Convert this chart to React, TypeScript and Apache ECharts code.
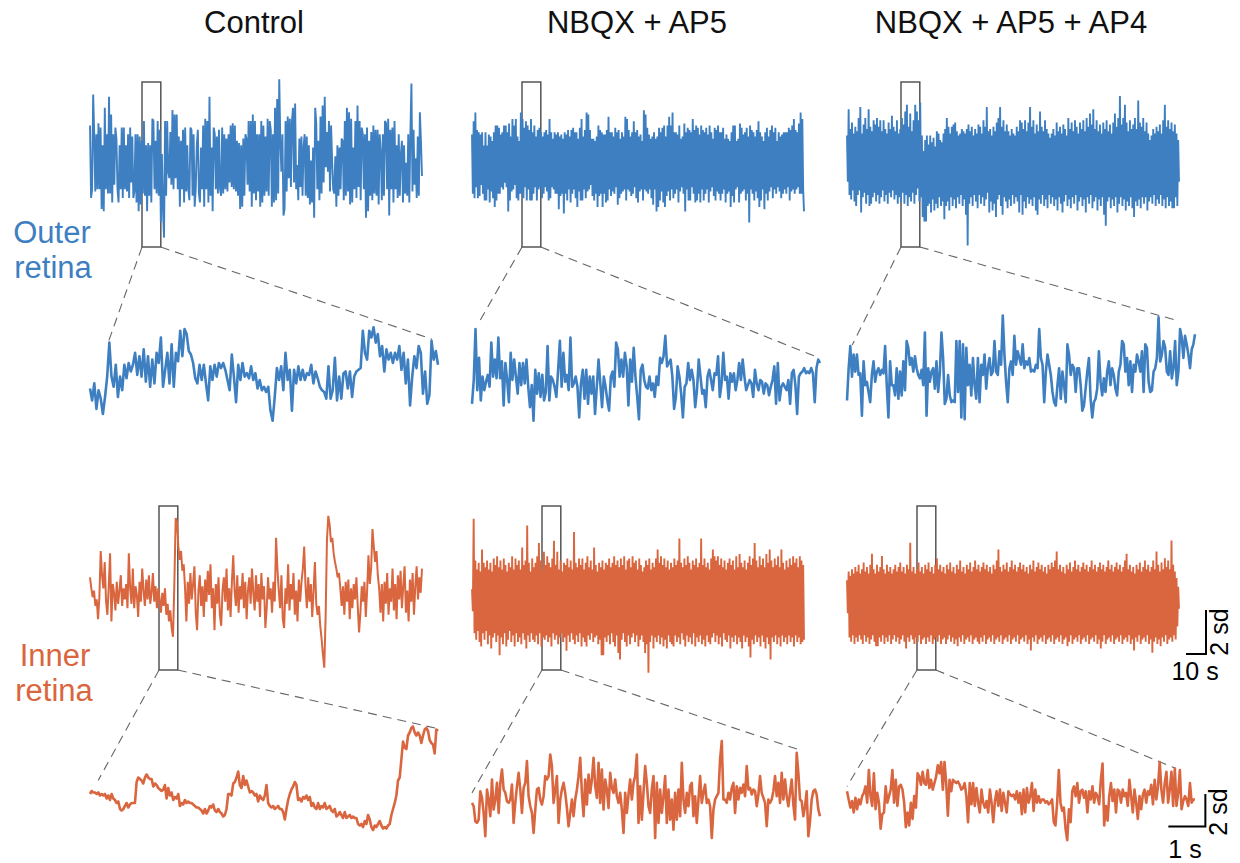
import { useEffect, useRef } from "react";
import * as echarts from "echarts";

// ---------- labels ----------
const CONDITIONS = ["Control", "NBQX + AP5", "NBQX + AP5 + AP4"];
const REGION_LABELS = [["Outer", "retina"], ["Inner", "retina"]];
const FULL_DURATION_S = 166; // full recordings (s)
const ZOOM_DURATION_S = 9.4; // zoomed windows (s)

// ---------- values (sd units) ----------
// Outer retina, Control, full recording (dense trace)
const outerControlFull = [
  1.8,-1.5,-1.1,3.2,1.4,-1.2,1.4,-1.1,1.9,-1.1,1.7,-2.0,0.9,-2.1,2.6,-1.1,1.4,-1.3,3.1,-1.3,2.3,-1.7,1.4,-0.9,1.7,1.2,-1.1,-1.7,0.9,-1.1,
  1.7,-1.5,1.7,-1.1,0.9,-1.2,1.4,-1.5,1.7,-0.8,1.3,-1.5,-1.2,1.4,-1.7,1.4,-2.1,1.3,-1.8,1.1,-1.3,2.0,-1.4,0.9,-2.1,1.0,-1.4,0.9,-1.7,2.1,
  2.0,-1.1,1.1,-1.3,2.0,-1.4,1.6,-2.6,0.5,-2.0,-3.3,2.0,-1.4,2.0,-0.3,-0.6,1.5,-0.9,2.5,-1.1,2.3,-0.6,2.3,-1.1,1.3,-1.9,1.1,-1.1,1.6,-1.7,
  1.7,-1.2,0.9,-1.1,-1.6,1.7,1.6,-1.4,1.4,-1.9,-1.1,0.9,1.6,-1.3,-1.7,0.8,-1.1,1.8,-1.9,2.1,-1.1,2.0,-1.7,3.1,-1.4,0.8,-2.1,1.7,1.4,-1.1,
  1.3,-1.3,1.6,-1.1,-1.4,1.7,-1.3,1.4,-1.1,1.2,-1.2,1.4,-0.8,1.8,-1.0,1.9,-1.1,1.8,-1.2,1.1,-1.4,1.0,-2.0,0.9,-1.9,1.2,-1.4,1.4,1.2,-0.9,
  2.0,-1.2,2.0,-1.9,2.3,-1.3,2.0,-1.6,1.4,-1.2,1.4,-1.9,2.0,-1.7,1.8,-1.4,1.3,-1.2,2.1,-1.4,2.0,1.6,-1.9,1.4,-1.7,2.6,-1.6,3.0,-1.3,3.9,
  1.1,-0.3,1.4,-2.3,-2.0,2.0,-1.2,2.2,-0.6,2.1,-1.0,2.0,2.6,-0.8,2.8,-1.1,0.0,-1.6,1.2,-1.0,1.3,-1.4,0.8,1.4,-1.4,1.3,-1.5,0.9,-1.8,0.2,
  -1.7,0.8,-2.4,2.6,1.9,-1.1,1.1,-1.6,2.2,-1.3,2.7,-0.8,3.1,-0.1,1.5,-0.3,2.0,-1.2,1.8,0.2,-1.1,-1.3,0.4,-1.9,0.9,-1.4,0.8,-1.1,1.2,1.1,
  -1.6,2.0,-1.4,2.6,-1.2,2.4,-1.8,2.1,-1.7,0.8,-1.1,2.0,-1.5,2.7,-1.0,2.0,-1.6,1.7,1.4,-1.1,1.4,-2.4,1.7,-2.1,1.1,-1.4,1.5,-1.6,1.8,-1.3,
  1.6,-1.4,1.6,-1.8,1.4,0.6,-1.6,1.4,-1.4,2.0,1.9,-1.1,2.1,-2.3,1.6,-1.1,1.7,-1.7,2.0,-1.1,0.9,-1.5,1.4,-1.4,0.5,1.1,-1.7,0.9,-1.3,0.1,
  -1.4,1.4,-1.7,1.4,3.7,-1.2,1.6,-0.9,0.3,-1.5,1.3,-1.4,2.4,1.1,-0.5,
];

// Outer retina, NBQX + AP5, full recording: successive upper peaks and lower troughs
const outerNbqxFullPeaks = [
  1.3,1.9,2.3,1.5,1.4,1.3,1.4,0.8,1.4,0.8, 1.3,1.2,1.0,1.4,1.7,1.7,1.6,1.3,1.4,1.7,
  1.7,1.4,1.8,1.2,2.0,1.7,2.0,1.2,1.0,2.3, 2.0,1.6,1.9,1.7,1.5,2.0,1.4,1.7,1.2,1.5,
  1.6,1.4,1.2,1.4,1.5,1.3,2.0,1.4,1.1,1.4, 1.3,1.4,1.2,1.3,1.1,1.4,1.3,1.5,1.2,1.5,
  1.6,1.4,1.4,1.1,1.6,2.0,1.2,1.5,2.3,2.2, 1.5,1.1,1.1,1.0,1.2,1.7,1.5,1.4,1.3,1.3,
  1.5,2.1,1.4,1.4,1.2,1.6,1.4,1.5,1.1,1.4, 1.2,2.1,2.0,1.5,1.2,1.4,1.9,1.4,1.5,1.2,
  1.3,1.0,2.4,2.2,1.6,1.3,1.1,1.2,1.4,1.1, 1.2,1.6,1.4,1.6,1.7,1.2,1.7,2.1,1.7,2.3,
  1.4,1.4,1.3,1.7,1.1,1.2,1.8,1.4,1.6,1.5, 1.4,2.0,1.5,1.7,1.6,1.3,1.7,1.5,1.4,1.6,
  1.3,1.7,1.4,1.1,1.6,1.5,1.7,1.4,1.4,1.6, 1.1,1.3,1.1,1.0,1.4,1.7,1.7,1.0,1.1,1.8,
  1.6,1.3,1.4,1.6,1.2,1.7,1.5,1.4,1.2,1.5, 1.9,1.4,1.2,1.0,1.4,1.6,1.2,1.5,1.7,1.4,
  1.6,1.0,1.4,1.2,1.3,1.4,1.4,1.4,1.6,1.5, 1.7,2.0,1.5,1.4,1.8,2.3,2.0,
];
const outerNbqxFullTroughs = [
  -1.4,-1.6,-1.1,-1.6,-1.5,-1.0,-1.4,-1.7,-1.7,-1.2, -1.8,-1.3,-1.6,-2.0,-1.7,-1.4,-1.4,-1.1,-1.2,-0.9,
  -1.1,-2.2,-1.7,-1.3,-1.2,-1.0,-1.6,-1.7,-1.4,-1.4, -1.6,-1.1,-1.7,-1.2,-1.7,-1.7,-1.4,-1.1,-1.7,-1.2,
  -1.1,-1.6,-1.4,-1.1,-1.3,-1.7,-1.6,-1.1,-1.2,-1.4, -1.4,-2.1,-1.5,-1.4,-2.3,-1.4,-1.7,-1.2,-1.8,-1.4,
  -1.2,-1.6,-2.0,-1.3,-1.7,-1.7,-1.2,-1.6,-1.3,-1.2, -1.0,-1.5,-1.7,-1.4,-2.0,-1.5,-1.4,-2.0,-1.4,-1.8,
  -1.7,-1.2,-1.5,-1.3,-1.4,-1.1,-1.9,-1.6,-1.4,-1.3, -1.2,-1.7,-1.2,-1.3,-1.5,-1.4,-1.1,-1.6,-1.8,-1.3,
  -1.2,-1.7,-1.2,-1.3,-1.4,-1.2,-1.6,-1.9,-1.2,-2.2, -2.0,-1.7,-1.3,-1.8,-2.0,-1.5,-1.3,-1.7,-1.2,-1.6,
  -1.4,-1.2,-1.8,-1.3,-1.1,-1.4,-2.2,-1.2,-1.7,-1.7, -1.1,-1.4,-1.8,-1.7,-1.4,-1.8,-1.2,-1.7,-1.4,-1.2,
  -1.8,-1.3,-1.1,-1.5,-1.7,-1.3,-1.4,-1.7,-1.4,-1.2, -1.8,-1.4,-1.3,-2.0,-1.5,-1.8,-1.2,-1.1,-1.8,-1.4,
  -1.3,-1.2,-1.7,-1.4,-2.7,-1.2,-1.4,-1.7,-1.3,-1.6, -2.0,-1.7,-1.2,-2.1,-1.4,-1.7,-1.3,-1.1,-1.6,-1.2,
  -1.4,-1.1,-1.3,-1.6,-1.4,-1.2,-1.4,-1.1,-1.7,-1.3, -1.2,-1.4,-1.2,-1.1,-1.4,-1.4,-1.2,-2.2,
];

// Outer retina, NBQX + AP5 + AP4, full recording (peak, trough, peak, trough, ...)
const outerAp4Full = [
  1.2,-0.9, 2.4,-1.5, 1.5,-1.7, 1.8,-1.3, 1.3,-1.8, 1.6,-2.0, 1.4,-1.5, 2.0,-1.3, 2.5,-2.3, 1.3,-1.6,
  1.7,-1.4, 2.0,-1.9, 1.5,-1.5, 2.4,-2.0, 1.6,-1.9, 1.4,-1.6, 1.9,-1.4, 1.7,-1.8, 2.0,-1.5, 1.6,-1.9,
  1.9,-1.6, 1.4,-1.3, 1.9,-1.8, 1.5,-1.5, 1.3,-1.9, 1.8,-1.4, 1.5,-1.6, 2.1,-1.3, 1.6,-1.7, 1.4,-1.5,
  1.9,-1.9, 1.3,-1.6, 1.5,-1.8, 2.0,-1.4, 1.7,-1.9, 2.3,-1.5, 2.6,-2.0, 1.6,-1.6, 2.2,-1.8, 1.4,-1.4,
  1.9,-1.9, 2.6,-1.5, 2.3,-1.2, 1.9,-1.8, 2.7,-1.6, 1.2,-2.5, 0.5,-2.7, 1.0,-2.7, 1.2,-2.0, 0.8,-1.9,
  1.2,-2.3, 0.9,-1.7, 1.1,-2.2, 0.7,-1.9, 1.4,-2.1, 1.3,-1.6, 1.0,-2.0, 0.9,-1.8, 1.3,-2.6, 1.5,-2.0,
  2.0,-1.8, 1.6,-2.2, 1.3,-1.6, 1.6,-2.0, 1.7,-1.7, 1.8,-2.1, 1.4,-1.6, 1.2,-1.9, 1.3,-1.5, 1.5,-2.0,
  1.4,-1.7, 1.3,-2.4, 1.5,-3.8, 1.7,-1.9, 1.4,-1.6, 1.6,-2.0, 1.2,-1.5, 1.5,-1.8, 1.3,-2.1, 1.7,-1.5,
  1.6,-1.9, 1.3,-1.6, 1.9,-2.0, 1.6,-1.7, 2.5,-1.4, 1.4,-2.3, 1.5,-1.8, 1.2,-2.2, 1.6,-1.9, 1.4,-2.5,
  1.8,-1.7, 2.0,-1.5, 2.5,-2.0, 1.6,-2.4, 1.9,-1.6, 1.4,-1.8, 1.7,-2.1, 1.4,-1.7, 1.2,-2.0, 1.5,-1.5,
  1.3,-1.9, 1.2,-1.6, 1.6,-1.8, 1.4,-2.3, 1.9,-1.5, 1.8,-2.4, 1.5,-1.8, 1.9,-2.1, 1.4,-1.6, 1.8,-1.9,
  2.5,-1.7, 1.6,-2.0, 1.9,-1.6, 1.3,-2.2, 1.7,-2.4, 1.4,-1.7, 2.3,-1.9, 1.6,-1.5, 1.4,-2.0, 1.9,-1.7,
  1.5,-2.1, 1.3,-1.5, 1.1,-1.9, 1.3,-1.6, 1.5,-2.0, 1.2,-1.7, 1.8,-2.2, 1.4,-1.6, 1.6,-1.9, 1.3,-2.3,
  1.7,-1.8, 1.5,-1.5, 1.2,-2.0, 2.0,-1.7, 1.5,-2.1, 1.8,-1.6, 1.4,-1.9, 1.9,-1.5, 1.6,-2.2, 1.3,-1.8,
  1.8,-1.6, 1.5,-2.0, 1.9,-1.7, 1.4,-2.3, 2.0,-1.6, 1.6,-1.9, 2.2,-1.5, 1.7,-2.1, 2.4,-1.8, 1.5,-1.6,
  1.9,-2.2, 1.4,-1.7, 1.7,-2.0, 1.3,-1.6, 1.8,-2.4, 1.5,-2.9, 1.9,-1.8, 1.4,-1.6, 1.7,-2.1, 1.3,-1.7,
  1.8,-2.0, 2.2,-1.6, 1.6,-2.3, 2.0,-1.9, 3.0,-1.6, 1.7,-2.0, 2.0,-1.7, 2.6,-2.2, 1.8,-1.8, 1.4,-2.0,
  1.9,-1.6, 1.5,-2.1, 1.7,-2.5, 2.0,-1.8, 1.5,-2.0, 2.8,-1.7, 1.8,-2.1, 1.6,-1.6, 2.0,-1.9, 1.4,-1.6,
  1.8,-2.2, 1.3,-1.8, 1.0,-1.6, 1.2,-1.9, 1.5,-1.5, 1.3,-2.0, 1.6,-1.7, 1.4,-1.9, 1.7,-1.5, 1.3,-2.0,
  1.9,-1.7, 2.6,-2.1, 1.6,-1.6, 1.9,-2.0, 1.5,-1.8, 1.8,-2.1, 1.4,-2.1, 1.7,-1.6, 1.3,-2.0, 1.0,-0.9,
];

// Outer retina, zoomed windows
const outerControlZoom = [
  -0.5,-1.2,-0.2,-1.7,-0.6,-1.1,-2.0,-1.0,0.2,2.2,0.2,-0.4,0.9,-1.0,0.2,-0.6,0.9,0.1,1.0,0.5,
  0.9,1.6,0.3,1.4,0.2,1.8,-0.1,1.4,-0.4,1.2,-0.2,1.6,1.0,2.5,-0.4,0.6,1.6,-0.2,2.1,-0.4,
  1.6,1.1,2.9,1.4,3.0,2.7,1.7,1.5,1.0,0.1,-0.2,0.9,0.0,0.9,-0.2,-1.2,0.8,0.0,0.9,0.2,
  1.0,0.7,1.0,0.6,0.0,-0.6,1.5,0.2,-1.3,0.9,0.0,1.0,0.2,0.4,0.1,0.8,0.0,0.4,-0.5,0.0,
  -0.6,-0.4,-0.7,-0.4,-1.8,-2.4,-1.0,0.7,0.0,0.8,-0.6,1.6,0.0,0.6,-1.8,0.6,-0.2,0.8,0.0,0.6,
  0.0,0.4,0.3,0.9,-0.2,0.5,0.1,-0.4,-0.6,-0.7,-1.1,0.8,-1.1,-0.6,1.3,-1.2,0.2,-1.1,0.4,0.5,
  -0.5,0.5,-1.0,0.2,0.5,0.6,0.7,2.9,1.6,1.2,2.9,2.5,3.1,2.2,2.7,1.4,2.0,0.5,1.8,1.2,
  1.6,1.0,1.6,1.2,2.0,0.6,1.6,-0.2,1.2,-1.5,0.2,1.4,0.7,2.0,1.6,-0.8,0.5,-1.4,-0.9,2.3,
  1.2,1.7,0.9,
];
const outerNbqxZoom = [
  -1.4,0.0,3.0,-0.6,1.3,-1.2,0.2,-0.6,-0.1,0.3,-0.4,2.2,0.2,1.2,0.1,2.5,0.1,1.1,-1.5,1.0,
  0.0,-1.3,1.6,0.0,1.2,0.2,-0.8,1.0,-0.3,1.0,-0.2,1.2,-0.4,-1.6,-0.3,-2.4,0.6,-0.8,0.4,-1.0,
  0.3,-1.2,-0.7,2.0,-1.2,0.2,0.0,-0.4,-1.0,0.6,2.3,-0.4,1.6,-0.1,0.3,-0.6,2.5,-0.4,-0.2,0.2,
  -0.4,-2.2,-0.2,0.6,-1.1,0.6,-1.4,0.2,-0.8,0.2,-2.0,-0.4,1.2,-0.2,-1.6,0.2,-0.4,-1.2,-1.8,0.2,
  0.5,-0.4,2.2,1.8,0.2,1.2,0.2,1.6,0.8,-1.5,1.2,-0.1,1.9,0.2,-1.0,-2.3,0.6,0.9,0.0,-0.4,
  -0.5,0.2,-0.6,-0.2,-1.0,0.2,-0.3,1.3,1.0,1.4,2.6,0.8,1.0,1.2,0.2,-1.7,-1.0,0.8,0.2,-0.8,
  -2.2,-0.4,-0.2,1.0,0.0,0.6,0.0,-1.6,-0.6,1.2,0.2,-0.8,-0.6,-1.6,0.2,0.6,0.0,-0.6,0.4,0.3,
  1.4,-1.0,-0.2,1.6,0.0,0.2,-1.1,0.4,-0.1,0.4,-0.6,0.0,1.0,0.0,1.2,0.2,-0.6,-0.3,0.0,-0.2,
  -1.0,0.6,-0.2,-0.6,0.0,-0.1,-0.8,-0.2,-0.3,-0.9,-0.4,0.0,0.8,-1.4,1.0,-1.2,-0.4,-0.2,-0.4,-0.6,
  0.0,-1.4,0.4,0.6,-0.3,-2.0,0.2,0.4,0.5,0.7,0.4,0.5,0.4,0.7,0.4,-1.3,0.7,1.2,1.0,
];
const outerAp4Zoom = [
  -1.5,0.4,1.7,-0.1,1.2,0.2,1.2,0.0,0.1,-2.4,0.8,-0.6,-0.4,-1.0,-1.6,0.0,0.8,-0.4,0.2,0.4,
  0.0,0.3,0.1,1.7,-0.6,-2.5,0.8,-0.6,-0.6,-1.2,0.4,-1.4,0.2,-1.2,0.8,-0.9,2.0,1.6,0.6,1.0,
  0.2,1.1,0.4,0.0,-0.2,0.3,-0.6,2.5,-2.4,0.4,-0.4,0.2,0.4,-0.8,0.8,-1.0,0.1,2.5,1.0,-1.7,
  -1.4,0.0,-1.2,-1.6,-1.5,-1.6,2.0,-1.0,2.0,-2.5,1.8,-2.6,1.6,-0.6,0.6,-1.2,1.0,-0.6,-1.4,1.0,
  -1.6,0.6,0.0,1.2,-0.8,0.4,1.0,0.0,0.2,2.0,0.2,0.0,1.4,0.6,3.5,1.2,-0.4,-1.6,0.4,0.8,
  0.0,2.3,0.6,1.4,1.0,0.6,1.8,0.4,0.8,0.6,1.0,0.2,0.3,0.2,0.6,0.4,2.7,1.0,0.6,-1.6,
  0.2,1.2,0.6,0.0,-1.0,-1.6,-1.8,-0.6,0.4,-1.4,0.2,-0.6,-1.6,1.8,1.2,0.0,0.6,0.4,-1.0,0.4,
  0.4,-0.6,-2.1,-1.8,-0.8,0.2,1.0,-1.4,-2.5,-1.6,-1.4,-0.8,1.4,-0.4,-1.2,-0.2,-1.0,0.2,0.8,-0.6,
  0.4,0.0,-0.8,-1.2,0.2,0.6,2.0,1.8,0.2,1.0,-0.6,0.8,-1.0,0.6,0.2,1.2,0.8,0.2,1.4,-1.0,
  1.8,1.6,-0.4,-1.0,-0.9,0.2,0.4,1.0,3.4,0.8,1.2,2.0,1.6,0.2,0.0,1.4,-0.2,0.4,2.0,-0.6,
  0.2,2.7,2.2,1.0,2.3,1.8,1.2,0.4,1.5,1.8,2.4,
];

// Inner retina, Control, full recording
const innerControlFull = [
  0.8,0.3,-0.1,0.2,-0.5,-0.2,-1.1,-0.1,2.0,0.9, 0.3,1.5,-0.3,-0.9,0.4,1.9,-1.2,0.5,0.1,-0.7,
  0.6,-0.4,0.2,0.9,-0.5,0.3,-0.2,0.5,-0.6,1.9, 0.3,-0.4,1.2,-0.6,0.4,0.0,-1.0,0.6,-0.3,1.2,
  0.2,-0.5,0.7,-0.2,0.9,-0.4,0.1,1.0,-0.3,0.4, -0.6,0.3,-0.2,-0.8,0.1,-0.5,0.3,-0.9,-0.4,-1.2,
  -0.7,-1.5,-1.9,0.5,3.5,3.3,2.2,1.6,2.0,1.1, 1.4,0.3,-1.2,0.6,-0.4,1.0,-0.2,0.5,1.3,-0.8,
  -1.6,0.2,0.9,-0.5,0.4,-1.0,0.7,-0.3,1.1,0.0, 1.4,-0.6,0.3,-1.6,0.5,-0.4,0.8,-0.9,-1.4,0.2,
  0.8,-0.3,1.2,-0.7,0.3,-1.0,0.6,1.8,0.2,-0.5, 0.9,-0.8,0.4,-0.2,1.0,-0.6,0.6,-1.1,0.2,0.8,
  -0.4,1.2,0.1,-0.7,0.9,-0.3,0.5,-1.0,1.0,-0.2, 0.4,-1.5,-0.6,0.8,-0.2,0.3,-0.8,0.6,-0.3,2.6,
  1.2,0.2,-0.6,0.9,-1.1,-1.5,0.3,-0.4,1.4,-0.7, 0.5,-0.2,1.0,-0.9,0.2,-1.2,0.7,-0.3,0.6,1.2,
  2.2,0.4,-0.6,0.8,-0.3,0.5,-1.0,0.2,1.5,-0.4, -0.9,-0.5,-1.4,-2.0,-2.7,-3.3,-1.0,2.5,3.6,3.2,
  2.4,2.6,1.9,1.5,1.2,0.8,1.0,0.3,-0.5,0.4, -0.9,0.6,-0.3,0.7,-1.1,0.3,-0.6,0.5,-0.2,0.8,
  -0.5,-1.7,-0.8,0.4,-0.3,0.6,-1.0,0.2,1.8,0.5, 1.2,3.0,2.2,1.5,2.0,0.9,0.3,-0.8,0.5,-1.2,
  0.6,-0.4,1.0,-0.9,0.3,-0.3,1.2,-0.7,0.5,-1.1, 0.9,-0.2,1.1,-0.6,0.4,1.3,-0.8,0.2,-1.2,0.7,
  -0.3,1.0,-0.9,0.4,1.3,-0.2,0.8,0.1,1.2,
];

// Inner retina, NBQX + AP5, full recording (peak, trough, ...)
const innerNbqxFull = [
  0.4,-0.6, 3.6,-1.6, 1.7,-1.9, 1.3,-1.5, 1.6,-2.0, 1.2,-2.2, 2.2,-1.6, 1.6,-1.9, 1.4,-1.5, 1.7,-2.1,
  1.3,-1.7, 1.6,-2.3, 1.2,-1.8, 1.8,-1.6, 1.5,-2.0, 1.9,-1.7, 1.4,-2.6, 1.7,-1.8, 1.3,-2.1, 1.8,-1.6,
  1.5,-2.2, 1.2,-1.9, 1.6,-1.5, 1.4,-2.0, 1.9,-1.7, 1.3,-2.2, 1.8,-1.6, 1.5,-2.0, 1.7,-1.8, 1.3,-2.1,
  2.3,-1.6, 1.5,-1.9, 1.7,-2.3, 3.3,-1.7, 1.6,-2.0, 1.2,-1.6, 1.8,-1.9, 1.4,-2.0, 1.6,-1.7, 1.9,-2.1,
  2.5,-1.6, 1.7,-2.2, 1.3,-1.8, 2.1,-1.9, 1.5,-1.7, 1.9,-2.0, 1.6,-1.8, 1.4,-2.2, 1.8,-1.6, 2.6,-1.9,
  1.5,-1.7, 2.1,-2.1, 1.3,-1.8, 1.7,-1.6, 1.2,-2.0, 1.6,-1.8, 1.5,-2.4, 1.8,-1.7, 1.4,-2.0, 1.7,-1.6,
  1.3,-1.9, 3.0,-2.1, 1.6,-1.7, 1.4,-2.0, 1.8,-1.6, 1.5,-2.2, 1.8,-1.8, 1.3,-2.0, 1.6,-2.2, 1.9,-1.7,
  1.4,-1.9, 1.7,-1.6, 1.3,-2.0, 2.3,-1.8, 1.5,-1.7, 1.2,-2.1, 1.6,-1.9, 1.4,-2.6, 1.7,-2.6, 1.3,-1.8,
  1.6,-2.0, 1.5,-1.7, 1.8,-2.1, 1.4,-1.6, 1.6,-2.0, 1.9,-2.2, 1.5,-1.7, 1.7,-2.5, 1.4,-2.8, 1.8,-1.9,
  1.5,-1.6, 1.9,-2.0, 1.3,-2.2, 1.7,-1.7, 1.8,-2.1, 1.4,-1.8, 1.9,-1.6, 1.6,-2.0, 1.7,-1.7, 1.3,-2.2,
  1.8,-1.9, 1.5,-1.7, 1.2,-2.0, 1.4,-2.5, 1.7,-2.1, 1.5,-3.4, 1.8,-2.0, 1.3,-1.7, 1.6,-2.3, 1.4,-1.8,
  1.8,-2.0, 2.2,-1.7, 1.6,-2.1, 1.9,-1.8, 1.5,-2.2, 1.8,-1.9, 1.4,-2.3, 1.7,-1.7, 1.3,-2.0, 1.6,-2.1,
  1.4,-2.2, 1.8,-1.7, 1.5,-2.0, 1.7,-1.8, 2.7,-2.1, 1.6,-1.6, 1.4,-1.9, 1.8,-2.2, 1.5,-1.7, 1.9,-2.0,
  1.6,-1.8, 1.3,-2.1, 1.7,-1.6, 1.5,-2.2, 1.8,-1.8, 1.4,-2.0, 1.6,-1.7, 2.7,-2.1, 1.5,-1.9, 1.8,-2.2,
  1.4,-1.7, 1.6,-2.0, 1.3,-2.1, 1.8,-1.8, 2.2,-1.6, 1.9,-2.0, 1.7,-1.7, 1.9,-2.1, 1.5,-1.8, 1.8,-2.2,
  1.4,-1.6, 1.7,-1.9, 1.3,-2.0, 1.6,-1.7, 1.8,-2.3, 1.5,-1.8, 1.7,-2.0, 1.3,-1.7, 1.9,-2.1, 1.4,-1.8,
  2.0,-2.0, 1.6,-2.3, 1.4,-1.7, 1.7,-2.0, 1.3,-1.8, 1.6,-2.2, 1.9,-2.7, 1.5,-1.9, 1.8,-2.1, 2.5,-1.7,
  1.7,-2.0, 1.4,-1.8, 1.9,-2.2, 1.5,-1.7, 1.8,-2.0, 1.4,-2.3, 2.0,-1.8, 1.6,-2.1, 2.2,-2.8, 1.7,-1.8,
  1.4,-2.0, 1.8,-1.7, 1.5,-2.1, 1.9,-1.8, 1.4,-2.2, 2.2,-1.7, 1.6,-2.0, 1.3,-1.8, 1.7,-2.1, 1.4,-1.7,
  1.8,-2.0, 1.5,-1.8, 1.9,-2.2, 1.6,-1.7, 1.8,-2.0, 1.4,-1.8, 1.9,-2.1, 1.7,-2.0, 1.5,-1.9,
];

// Inner retina, NBQX + AP5 + AP4, full recording (peak, trough, ...)
const innerAp4Full = [
  0.9,-0.6, 1.3,-1.7, 1.1,-1.9, 1.4,-1.6, 1.2,-2.0, 1.5,-1.7, 1.3,-1.9, 1.6,-1.6, 1.2,-1.8, 1.4,-2.0,
  1.7,-1.6, 1.3,-1.9, 1.5,-1.7, 1.2,-2.0, 1.6,-1.8, 2.1,-1.6, 1.4,-1.9, 1.2,-2.1, 1.6,-2.1, 1.3,-1.7,
  1.5,-1.9, 2.0,-1.6, 1.4,-2.0, 1.2,-1.7, 1.6,-1.9, 1.3,-1.6, 1.5,-2.0, 1.2,-1.8, 1.4,-1.6, 1.6,-1.9,
  1.3,-1.7, 1.5,-2.0, 1.7,-1.8, 1.3,-1.6, 1.5,-1.9, 1.2,-2.2, 1.6,-1.7, 1.4,-1.9, 2.6,-1.6, 1.3,-1.8,
  1.5,-2.0, 1.2,-1.7, 1.4,-1.9, 1.7,-1.6, 1.3,-2.0, 1.5,-1.8, 1.2,-1.7, 1.6,-2.0, 1.4,-1.7, 1.7,-1.9,
  1.3,-1.6, 1.5,-2.0, 1.2,-1.8, 1.6,-1.7, 1.9,-1.9, 1.4,-1.6, 1.6,-2.0, 1.3,-1.8, 1.5,-1.7, 1.2,-2.0,
  1.6,-1.8, 1.4,-1.6, 1.7,-1.9, 1.3,-1.7, 1.5,-2.0, 1.2,-1.8, 1.6,-2.1, 1.4,-1.7, 1.8,-1.9, 1.3,-1.6,
  1.5,-2.0, 1.2,-1.8, 1.6,-1.7, 1.4,-1.9, 1.7,-1.6, 1.3,-2.0, 1.5,-1.8, 1.8,-1.7, 1.4,-1.9, 1.6,-2.0,
  1.3,-1.7, 1.5,-1.9, 1.7,-1.6, 1.4,-2.0, 1.6,-1.8, 1.3,-1.7, 1.5,-1.9, 1.2,-1.6, 1.6,-2.0, 1.4,-1.8,
  1.8,-1.7, 2.3,-1.9, 1.5,-1.6, 1.3,-2.0, 1.6,-1.8, 1.4,-1.7, 1.7,-1.9, 1.3,-1.6, 1.5,-2.0, 1.8,-1.8,
  1.4,-1.7, 1.6,-1.9, 1.3,-1.6, 1.5,-2.0, 1.7,-1.8, 1.4,-1.7, 1.6,-1.9, 1.3,-1.6, 1.5,-2.0, 1.2,-1.8,
  1.6,-2.3, 1.4,-1.7, 1.8,-1.9, 1.3,-1.6, 1.5,-2.0, 1.7,-1.8, 1.4,-1.7, 1.6,-1.9, 1.3,-1.6, 1.5,-2.0,
  1.2,-1.8, 1.6,-1.7, 1.4,-1.9, 1.7,-1.6, 1.5,-2.0, 1.8,-1.8, 2.2,-1.7, 1.4,-1.9, 1.6,-1.6, 1.3,-2.0,
  1.5,-1.8, 1.2,-1.7, 1.6,-2.1, 1.4,-1.9, 1.7,-1.6, 1.3,-2.0, 1.5,-1.8, 1.8,-1.7, 1.4,-1.9, 1.6,-1.6,
  1.3,-2.0, 1.5,-1.8, 1.7,-1.7, 1.4,-1.9, 1.6,-1.6, 1.3,-2.0, 1.5,-1.8, 1.8,-1.7, 1.4,-1.9, 1.6,-1.6,
  1.3,-2.0, 1.5,-1.8, 1.7,-2.2, 1.4,-1.9, 1.6,-1.6, 1.3,-2.0, 1.5,-1.8, 1.8,-1.7, 1.4,-1.9, 1.6,-1.6,
  1.3,-2.0, 1.5,-1.8, 1.7,-1.7, 1.4,-1.9, 1.6,-1.6, 1.3,-2.0, 1.5,-1.8, 1.8,-1.7, 2.1,-1.9, 1.4,-1.6,
  1.6,-2.0, 1.3,-1.8, 1.5,-2.3, 1.2,-1.7, 1.6,-1.9, 1.4,-1.6, 1.7,-2.0, 1.3,-1.8, 1.5,-1.7, 1.8,-1.9,
  1.4,-1.6, 1.6,-2.0, 1.3,-1.8, 1.5,-2.4, 1.8,-1.9, 1.4,-1.7, 2.2,-2.0, 1.6,-1.8, 1.3,-2.1, 1.7,-1.7,
  1.4,-1.9, 1.9,-1.6, 1.5,-2.0, 1.8,-1.8, 1.4,-1.7, 2.7,-1.9, 1.6,-1.6, 1.3,-1.8, 1.0,-1.2, 0.6,-0.4,
];

// Inner retina, zoomed windows
const innerControlZoom = [
  0.6,0.8,0.7,0.7,0.6,0.7,0.5,0.6,0.5,0.6,0.3,0.5,0.2,0.6,0.3,0.2,0.0,0.1,-0.4,-0.5,
  -0.4,-0.2,0.0,-0.3,-0.1,0.0,0.0,0.0,1.4,1.7,1.6,1.5,1.3,1.7,1.9,1.7,1.6,1.6,1.1,1.3,
  1.2,1.0,0.9,0.8,0.9,1.2,0.3,1.0,0.5,0.7,0.2,0.4,0.3,0.6,-0.2,0.0,-0.1,0.2,0.0,0.1,
  0.0,0.0,-0.1,-0.2,-0.3,-0.3,-0.4,-0.5,-0.7,-0.4,-0.7,-0.5,-0.2,-0.3,-0.1,-0.5,-0.6,-0.4,-0.6,-0.7,
  -0.9,-0.8,-0.4,0.6,0.6,0.5,1.3,1.4,1.7,2.1,1.2,1.0,1.8,1.2,1.5,1.1,0.7,0.8,0.7,0.5,
  0.6,0.1,0.5,0.3,0.2,0.5,1.2,0.0,-0.2,-0.3,-0.2,-0.4,-0.3,-0.2,-0.4,-0.4,-0.6,-1.1,-0.4,0.2,
  0.6,0.9,1.1,1.4,1.2,0.2,0.3,0.1,0.4,0.3,0.5,0.2,0.4,-0.2,0.0,-0.3,-0.4,0.0,-0.4,-0.2,
  -0.3,0.0,-0.4,-0.3,-0.2,-0.5,-0.6,-0.4,-0.9,-0.8,-0.6,-0.8,-1.0,-0.6,-1.0,-0.9,-0.8,-1.0,-0.9,-1.0,
  -1.0,-1.4,-1.5,-1.4,-1.6,-1.2,-1.4,-0.8,-1.1,-1.6,-1.8,-1.5,-1.6,-1.4,-1.2,-1.5,-1.7,-1.6,-1.7,-1.5,
  -1.4,-0.8,-0.4,0.0,0.5,1.5,1.7,2.9,4.1,3.7,3.6,4.5,4.7,5.0,5.1,4.7,4.5,4.7,4.5,4.0,
  4.5,4.9,5.0,4.8,4.2,4.0,3.9,3.3,4.9,4.8,
];
const innerNbqxZoom = [
  -0.4,-0.6,-1.5,-1.6,-1.4,0.3,-0.1,-1.0,-2.4,0.4,-0.2,-1.2,1.0,-0.8,-0.2,0.8,-1.0,0.8,1.6,0.4,
  0.2,-0.3,-0.4,-0.2,0.7,-1.6,-0.4,0.6,1.4,0.4,-1.0,0.5,0.8,2.1,0.0,-0.6,-1.0,-2.2,-0.8,0.4,
  0.5,-0.2,-0.5,0.0,1.2,1.0,1.2,2.5,1.8,-0.4,0.4,1.2,-1.6,-0.2,0.4,0.8,0.2,-0.7,-1.8,-1.0,
  -0.2,-1.2,-0.2,0.4,1.2,2.3,0.2,-1.2,1.0,-0.5,1.3,0.2,1.0,2.3,0.6,-0.1,2.0,-0.4,1.6,-0.8,
  1.0,0.4,-0.7,1.4,0.5,0.2,1.0,0.0,-0.4,0.2,-0.8,-2.2,0.2,-1.0,0.1,1.0,-0.2,0.8,1.2,2.5,
  -1.6,0.6,-1.4,0.2,1.8,0.8,-0.6,-1.0,0.4,1.2,-2.5,0.8,-1.6,0.4,-1.0,0.0,1.2,-1.6,0.4,-1.4,
  -0.2,-2.0,0.2,-1.4,0.4,-1.2,2.0,-0.2,-1.0,0.2,-0.6,0.6,0.8,-1.2,0.0,-1.6,-0.2,1.2,-0.4,0.2,
  0.7,-0.4,-0.2,-0.6,-2.5,-0.8,-0.2,0.0,0.2,2.2,3.3,-0.2,-0.2,-0.4,0.2,-0.2,0.5,0.8,-1.0,0.6,
  -0.2,0.5,0.2,0.7,0.0,1.8,0.4,0.5,0.1,0.4,0.3,-0.6,0.1,1.2,0.2,-0.1,-0.4,-1.8,-0.2,-0.4,
  -0.2,0.3,1.2,0.0,0.8,-0.4,1.4,-0.2,1.0,0.0,-0.6,0.2,1.0,-0.5,-1.4,2.6,1.4,-0.2,-0.3,-1.2,
  -0.6,0.3,-2.4,-1.5,-0.2,0.3,0.4,0.1,-0.8,-1.2,
];
const innerAp4Zoom = [
  0.4,-0.1,-0.6,-0.2,-0.9,0.0,-0.7,-0.1,-0.4,0.1,0.3,0.7,-0.3,1.7,0.1,-0.5,1.5,-0.7,0.3,-0.3,
  -1.9,-1.0,-0.9,0.7,-0.3,0.1,0.5,1.7,-0.3,1.1,-0.5,0.7,0.8,0.5,-0.3,-1.8,-0.9,-1.7,-0.3,-1.3,
  0.1,-0.6,1.5,1.3,0.8,1.6,0.9,0.8,1.7,0.6,1.1,0.5,0.9,1.3,2.0,1.5,2.2,0.5,2.2,0.9,
  -1.1,1.1,0.4,1.1,1.0,0.9,1.0,0.8,0.5,0.6,0.9,0.1,-1.5,0.9,-0.4,0.9,-0.5,0.6,-0.3,-0.9,
  0.5,-0.3,-0.6,-0.2,-0.9,0.5,-0.3,-1.5,-0.2,0.4,-0.5,0.5,-0.8,0.3,-0.3,-0.9,0.4,0.2,0.1,0.2,
  -0.1,0.4,-0.3,0.3,-1.0,0.5,-0.9,0.6,-0.3,0.1,0.9,-0.8,0.5,-0.3,0.1,-0.3,-0.1,-0.1,-0.3,-0.2,
  -0.4,-0.3,-0.1,-1.5,-1.7,-0.3,1.7,-0.3,-0.8,-0.6,-1.9,-2.6,-0.7,-1.5,0.4,0.7,0.1,0.9,-0.3,0.4,
  0.5,0.0,0.4,-0.9,0.4,-0.1,0.7,-0.3,0.3,0.1,-0.4,1.1,2.1,-1.7,-0.5,-1.4,0.1,0.9,-0.2,0.5,
  -0.9,0.5,0.4,-0.3,0.5,0.1,0.3,-0.5,1.1,0.1,-0.9,0.5,-0.3,-1.3,0.1,-0.7,0.2,0.5,-0.3,0.4,
  0.2,0.8,-0.4,1.1,-0.1,0.7,2.2,0.5,-0.3,0.9,1.6,-0.3,0.5,1.6,-0.5,1.8,-0.5,0.3,1.7,-0.7,
  -0.2,0.1,-0.1,-0.5,0.9,-0.3,-0.1,-0.1,
];

// zoom-window annotations (s and sd in each panel's own axes): outer ctrl, outer nbqx, outer ap4, inner ctrl, inner nbqx, inner ap4
const windowStartS = [26, 25, 27, 34.5, 35, 35];
const windowTopSd = [3.77, 3.68, 3.64, 4.05, 4.18, 4.27];
const windowBottomSd = [-3.73, -3.82, -3.86, -3.41, -3.27, -3.18];
const connectorLeft = [[0.49, 2.2], [0.19, 3.4], [0.14, 1.76], [0.22, 1.5], [0, 0.2], [0, 0.7]];
const connectorRight = [[9.24, 2.4], [9.32, 1.35], [8.92, 3.2], [9.32, 5.0], [8.81, 2.8], [8.89, 1.8]];

// ---------- layout & style ----------
const BLUE = "#3e7fc1";
const ORANGE = "#d9663e";
const FONT = "'Liberation Sans', Arial, Helvetica, sans-serif";
const COL_LEFT = [90, 472, 847];
const FULL_W = 332;
const ZOOM_W = 348;
const FULL_TOP = [66, 64, 63, 496, 499, 501];
const ZOOM_TOP = [278, 278, 273, 713, 696, 700];
const FULL_RANGE = [-4.5, 4.5];
const ZOOM_RANGE = [-4, 6];
const FULL_H = 198;
const ZOOM_H = 170;

function interleave(a: number[], b: number[]) {
  const out: number[] = [];
  const n = Math.max(a.length, b.length);
  for (let i = 0; i < n; i++) {
    if (i < a.length) out.push(a[i]);
    if (i < b.length) out.push(b[i]);
  }
  return out;
}

const PANELS = [
  { full: outerControlFull, zoom: outerControlZoom, color: BLUE },
  { full: interleave(outerNbqxFullPeaks, outerNbqxFullTroughs), zoom: outerNbqxZoom, color: BLUE },
  { full: outerAp4Full, zoom: outerAp4Zoom, color: BLUE },
  { full: innerControlFull, zoom: innerControlZoom, color: ORANGE },
  { full: innerNbqxFull, zoom: innerNbqxZoom, color: ORANGE },
  { full: innerAp4Full, zoom: innerAp4Zoom, color: ORANGE },
];

function toXY(values: number[], duration: number) {
  const n = values.length;
  return values.map((v, i) => [(i * duration) / (n - 1), v]);
}

function buildOption() {
  const grid: any[] = [];
  const xAxis: any[] = [];
  const yAxis: any[] = [];
  const series: any[] = [];
  PANELS.forEach((p, k) => {
    const col = k % 3;
    const fullWidth = k === 3 ? 2.0 : 1.9;
    grid.push({ left: COL_LEFT[col], top: FULL_TOP[k], width: FULL_W, height: FULL_H });
    xAxis.push({ type: "value", gridIndex: 2 * k, min: 0, max: FULL_DURATION_S, show: false });
    yAxis.push({ type: "value", gridIndex: 2 * k, min: FULL_RANGE[0], max: FULL_RANGE[1], show: false });
    series.push({
      type: "line",
      xAxisIndex: 2 * k,
      yAxisIndex: 2 * k,
      data: toXY(p.full, FULL_DURATION_S),
      showSymbol: false,
      symbol: "none",
      silent: true,
      lineStyle: { color: p.color, width: fullWidth, join: "bevel" },
      markArea: {
        silent: true,
        label: { show: false },
        itemStyle: { color: "rgba(0,0,0,0)", borderColor: "#555", borderWidth: 1.5 },
        data: [[
          { xAxis: windowStartS[k], yAxis: windowTopSd[k] },
          { xAxis: windowStartS[k] + ZOOM_DURATION_S, yAxis: windowBottomSd[k] },
        ]],
      },
    });
    grid.push({ left: COL_LEFT[col], top: ZOOM_TOP[k], width: ZOOM_W, height: ZOOM_H });
    xAxis.push({ type: "value", gridIndex: 2 * k + 1, min: 0, max: ZOOM_DURATION_S, show: false });
    yAxis.push({ type: "value", gridIndex: 2 * k + 1, min: ZOOM_RANGE[0], max: ZOOM_RANGE[1], show: false });
    series.push({
      type: "line",
      xAxisIndex: 2 * k + 1,
      yAxisIndex: 2 * k + 1,
      data: toXY(p.zoom, ZOOM_DURATION_S),
      showSymbol: false,
      symbol: "none",
      silent: true,
      lineStyle: { color: p.color, width: 2.6, join: "round" },
    });
  });
  return { animation: false, grid, xAxis, yAxis, series };
}

function text(x: number, y: number, str: string, size: number, fill: string, rotation = 0) {
  return {
    type: "text",
    x,
    y,
    rotation,
    silent: true,
    style: { text: str, fontSize: size, fontFamily: FONT, fill, align: "center", verticalAlign: "middle" },
  };
}

function buildGraphics(chart: any) {
  const els: any[] = [];
  const titleX = [254, 637, 1011];
  CONDITIONS.forEach((c, i) => els.push(text(titleX[i], 22, c, 31, "#111")));
  els.push(text(52, 232, REGION_LABELS[0][0], 31, BLUE));
  els.push(text(53, 267, REGION_LABELS[0][1], 31, BLUE));
  els.push(text(55, 655, REGION_LABELS[1][0], 31, ORANGE));
  els.push(text(54, 690, REGION_LABELS[1][1], 31, ORANGE));

  PANELS.forEach((_, k) => {
    const bl = chart.convertToPixel({ gridIndex: 2 * k }, [windowStartS[k], windowBottomSd[k]]);
    const br = chart.convertToPixel({ gridIndex: 2 * k }, [windowStartS[k] + ZOOM_DURATION_S, windowBottomSd[k]]);
    const zl = chart.convertToPixel({ gridIndex: 2 * k + 1 }, connectorLeft[k]);
    const zr = chart.convertToPixel({ gridIndex: 2 * k + 1 }, connectorRight[k]);
    [[bl, zl], [br, zr]].forEach(([a, b]) => {
      els.push({
        type: "line",
        silent: true,
        shape: { x1: a[0], y1: a[1], x2: b[0], y2: b[1] },
        style: { stroke: "#666", lineWidth: 1.1, lineDash: [9, 6] },
      });
    });
  });

  const fullCorner = [179.5, -2.45];
  const a = chart.convertToPixel({ gridIndex: 10 }, [fullCorner[0], fullCorner[1] + 2]);
  const b = chart.convertToPixel({ gridIndex: 10 }, fullCorner);
  const c = chart.convertToPixel({ gridIndex: 10 }, [fullCorner[0] - 10, fullCorner[1]]);
  els.push({ type: "polyline", silent: true, shape: { points: [a, b, c] }, style: { stroke: "#000", lineWidth: 2, fill: "none" } });
  const zoomCorner = [9.68, -1.76];
  const d = chart.convertToPixel({ gridIndex: 11 }, [zoomCorner[0], zoomCorner[1] + 2]);
  const e = chart.convertToPixel({ gridIndex: 11 }, zoomCorner);
  const f = chart.convertToPixel({ gridIndex: 11 }, [zoomCorner[0] - 1, zoomCorner[1]]);
  els.push({ type: "polyline", silent: true, shape: { points: [d, e, f] }, style: { stroke: "#000", lineWidth: 2, fill: "none" } });

  els.push(text(1219, 632, "2 sd", 25, "#000", Math.PI / 2));
  els.push(text(1195, 671, "10 s", 25, "#000"));
  els.push(text(1218, 812, "2 sd", 25, "#000", Math.PI / 2));
  els.push(text(1185, 849, "1 s", 25, "#000"));
  return els;
}

export default function App() {
  const ref = useRef<HTMLDivElement>(null);
  useEffect(() => {
    if (!ref.current) return;
    const chart = echarts.init(ref.current, null, { renderer: "svg" });
    chart.setOption(buildOption());
    chart.setOption({ graphic: { elements: buildGraphics(chart) } });
    return () => chart.dispose();
  }, []);
  return (
    <div
      ref={ref}
      style={{ position: "absolute", left: 0, top: 0, width: 1240, height: 863, background: "#fff" }}
    />
  );
}
